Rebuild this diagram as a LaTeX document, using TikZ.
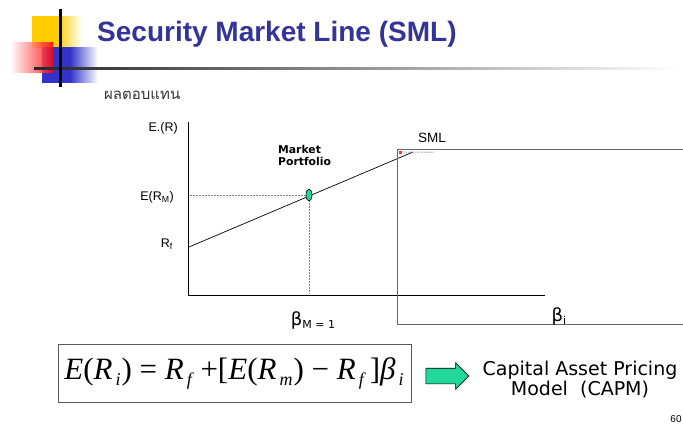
\documentclass[tikz,border=0pt]{standalone}
\usepackage{fontspec}
\setmainfont{Liberation Sans}
\newfontfamily\thaifont[Script=Thai]{Loma}
\newfontfamily\verdana{DejaVu Sans}
\newfontfamily\timesfont{Liberation Serif}
\usetikzlibrary{shapes.geometric,shapes.arrows}
\definecolor{titleblue}{RGB}{51,51,153}
\definecolor{mint}{RGB}{35,215,155}
\definecolor{logoyellow}{RGB}{255,204,0}
\definecolor{logoblue}{RGB}{51,51,204}
\tikzset{
    axis/.style={line width=0.8pt},
    guide/.style={densely dotted, gray, line width=0.5pt},
    lbl/.style={inner sep=0pt, font=\fontsize{12.5}{14}\selectfont},
}
% lowered italic index for the formula
\newcommand{\fsub}[1]{\raisebox{-6pt}{\fontsize{18}{19}\selectfont\itshape\,#1\hspace{1pt}}}

\begin{document}
\begin{tikzpicture}[x=1pt, y=-1pt]
    \useasboundingbox (0,0) rectangle (683,425);
    % corner logo
    \shade[left color=logoyellow, right color=white, middle color=logoyellow]
        (32,17) rectangle (82,48);
    \shade[left color=logoblue, right color=white, middle color=logoblue]
        (42,48) rectangle (98,83);
    \shade[left color=white, right color=red, opacity=0.85]
        (10,43) rectangle (53,73);
    \shade[left color=black!85, right color=white] (34,68) rectangle (680,70);
    \fill[black] (59,9) rectangle (61.5,87);
    % title
    \node (title) [anchor=base west, inner sep=0pt, text=titleblue,
        font=\fontsize{28}{30}\selectfont\bfseries] at (97,42)
        {Security Market Line (SML)};
    \node (ret) [anchor=west, inner sep=0pt, text=black!80,
        font=\thaifont\fontsize{15}{16}\selectfont] at (104,95) {ผลตอบแทน};
    % axes
    \coordinate (O) at (188,295);
    \coordinate (ytop) at (188,122);
    \coordinate (xend) at (545,295);
    \draw[axis] (ytop) -- (O) -- (xend);
    \node (er) [lbl, anchor=east] at (178,128) {E.(R)};
    \node (erm) [lbl, anchor=east] at (174,197) {E(R\textsubscript{M})};
    \node (rf) [lbl, anchor=east] at (173,244) {R\textsubscript{f}};
    % security market line
    \coordinate (rfpt) at (189,247);
    \coordinate (smlend) at (413,152);
    \draw[line width=0.7pt] (rfpt) -- (smlend);
    \node (mkt) [ellipse, draw, fill=mint, minimum width=6, minimum height=12,
        inner sep=0pt, line width=0.6pt] at (309,195) {};
    \draw[guide] (mkt.west) -- (189,195);
    \draw[guide] (mkt.south) -- (309,294);
    \node (mktlbl) [anchor=north west, align=left, inner sep=0pt,
        font=\verdana\bfseries\fontsize{10.8}{12.5}\selectfont] at (278,145)
        {Market\\Portfolio};
    \node (sml) [lbl, font=\fontsize{13.5}{15}\selectfont] at (432,138) {SML};
    % missing picture frame
    \draw[gray!80!black, line width=0.8pt] (683,149) -| (397,324) -- (683,324);
    \fill[red!80] (399,151) rectangle (402,154);
    \node (missing) [anchor=west, inner sep=0pt, text=gray,
        font=\fontsize{2.3}{3}\selectfont] at (403,152.5)
        {The picture can't be displayed.};
    % beta labels
    \node (bm) [inner sep=0pt, font=\verdana\fontsize{18}{20}\selectfont] at (313,320)
        {β\raisebox{-3pt}{\fontsize{11}{12}\selectfont M = 1}};
    \node (bi) [inner sep=0pt, font=\verdana\fontsize{18}{20}\selectfont] at (559,316)
        {β\raisebox{-3pt}{\fontsize{11}{12}\selectfont i}};
    % CAPM formula
    \node (capm) [draw=gray!70!black, line width=0.9pt, minimum width=353,
        minimum height=58, font=\timesfont\fontsize{31}{33}\selectfont] at (234.5,373)
        {\textit{E}(\textit{R}\fsub{i}) = \textit{R}\fsub{f}\ +[\textit{E}(\textit{R}\fsub{m}) − \textit{R}\fsub{f}\,]\textit{β}\fsub{i}};
    \node (arr) [single arrow, draw, fill=mint, line width=0.6pt, inner sep=7.5pt,
        minimum height=43, single arrow head extend=5.5pt] at (443.5,376) {};
    \node (model) [align=center, inner sep=0pt,
        font=\verdana\fontsize{19}{20.5}\selectfont] at (580,379.5)
        {Capital Asset Pricing\\Model\ \ (CAPM)};
    \node (page) [inner sep=0pt, font=\fontsize{10}{12}\selectfont] at (676,419) {60};
\end{tikzpicture}
\end{document}
